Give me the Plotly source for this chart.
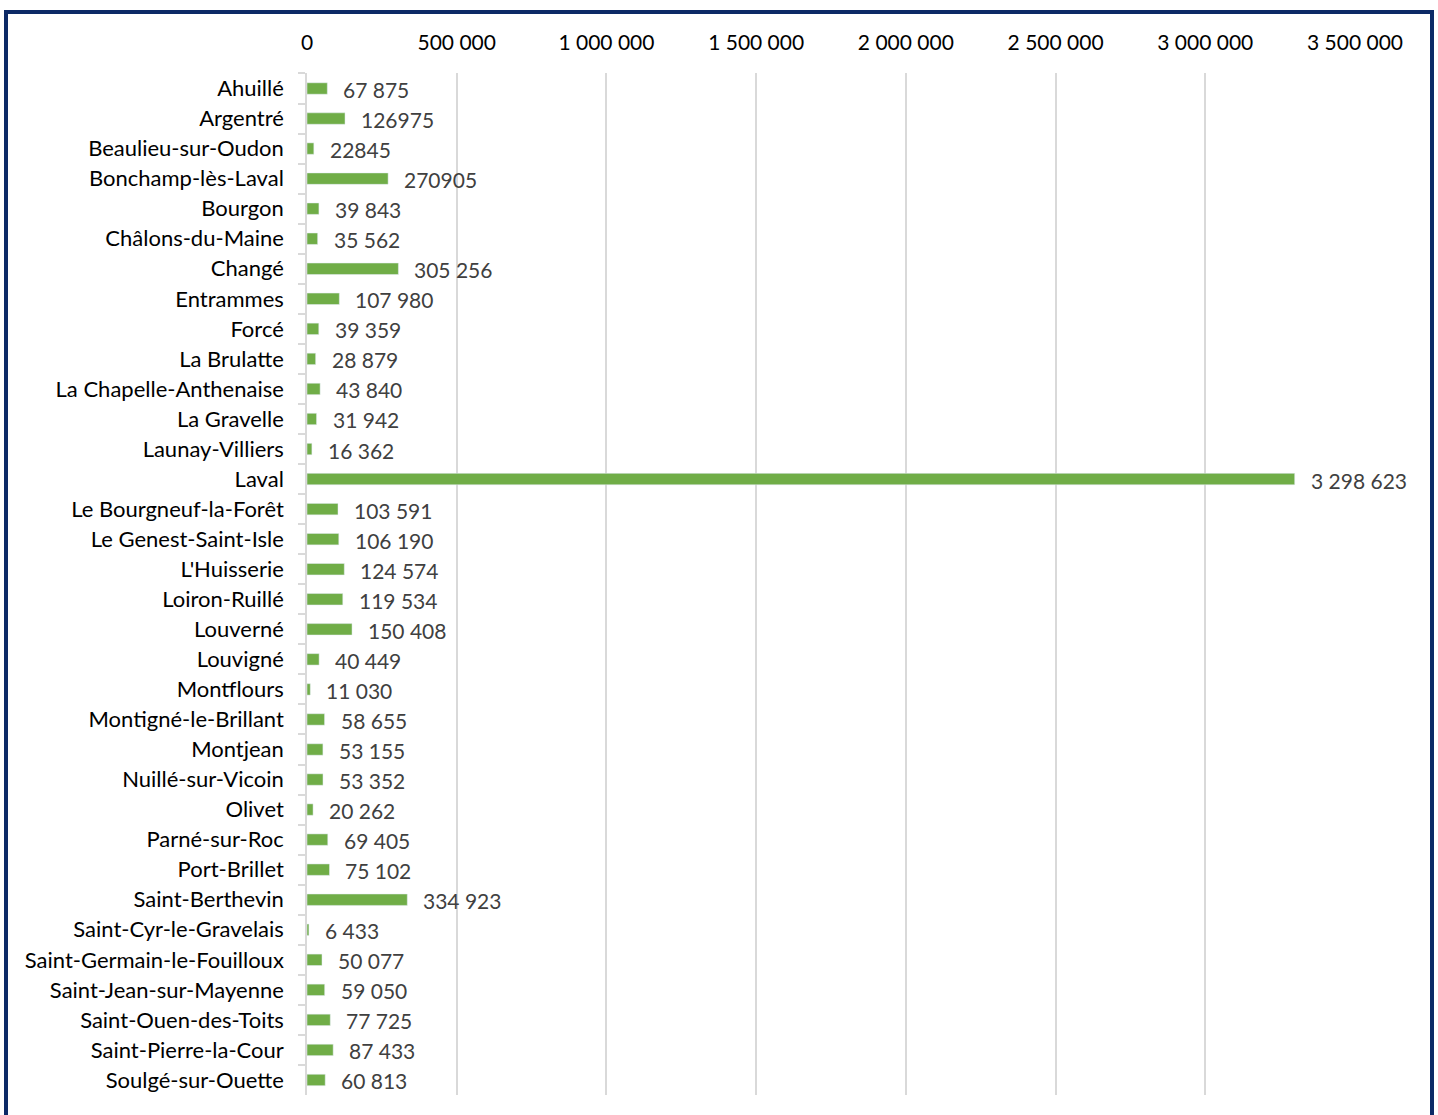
import plotly.graph_objects as go

# ---- data
communes = [
    "Ahuillé", "Argentré", "Beaulieu-sur-Oudon", "Bonchamp-lès-Laval", "Bourgon",
    "Châlons-du-Maine", "Changé", "Entrammes", "Forcé", "La Brulatte",
    "La Chapelle-Anthenaise", "La Gravelle", "Launay-Villiers", "Laval",
    "Le Bourgneuf-la-Forêt", "Le Genest-Saint-Isle", "L'Huisserie", "Loiron-Ruillé",
    "Louverné", "Louvigné", "Montflours", "Montigné-le-Brillant", "Montjean",
    "Nuillé-sur-Vicoin", "Olivet", "Parné-sur-Roc", "Port-Brillet", "Saint-Berthevin",
    "Saint-Cyr-le-Gravelais", "Saint-Germain-le-Fouilloux", "Saint-Jean-sur-Mayenne",
    "Saint-Ouen-des-Toits", "Saint-Pierre-la-Cour", "Soulgé-sur-Ouette",
]
values = [
    67875, 126975, 22845, 270905, 39843,
    35562, 305256, 107980, 39359, 28879,
    43840, 31942, 16362, 3298623,
    103591, 106190, 124574, 119534,
    150408, 40449, 11030, 58655, 53155,
    53352, 20262, 69405, 75102, 334923,
    6433, 50077, 59050,
    77725, 87433, 60813,
]
# labels as printed (a few have no thousands space)
labels = [
    "67 875", "126975", "22845", "270905", "39 843",
    "35 562", "305 256", "107 980", "39 359", "28 879",
    "43 840", "31 942", "16 362", "3 298 623",
    "103 591", "106 190", "124 574", "119 534",
    "150 408", "40 449", "11 030", "58 655", "53 155",
    "53 352", "20 262", "69 405", "75 102", "334 923",
    "6 433", "50 077", "59 050",
    "77 725", "87 433", "60 813",
]
tick_vals = [0, 500000, 1000000, 1500000, 2000000, 2500000, 3000000, 3500000]
tick_text = ["0", "500 000", "1 000 000", "1 500 000", "2 000 000", "2 500 000", "3 000 000", "3 500 000"]

FONT = "Lato"
W, H = 1438, 1115
L, R, T, B = 307, 83, 73, 20

fig = go.Figure(go.Bar(
    x=values, y=communes, orientation="h",
    marker_color="#70ad47", width=0.38,
    hoverinfo="x+y",
))

for v, c, lab in zip(values, communes, labels):
    fig.add_annotation(x=v, y=c, text=lab, showarrow=False, xanchor="left",
                       xshift=14, yshift=-1, font=dict(family=FONT, size=21, color="#404040"))

# dark frame around the whole chart (bottom edge runs off the page)
pw, ph = W - L - R, H - T - B
fig.add_shape(type="rect", xref="paper", yref="paper",
              x0=(6 - L) / pw, x1=(1432 - L) / pw,
              y0=(H - B - 1130) / ph, y1=(H - B - 12) / ph,
              line=dict(color="#0d2a66", width=4))

fig.update_layout(
    width=W, height=H,
    margin=dict(l=L, r=R, t=T, b=B),
    paper_bgcolor="white", plot_bgcolor="white",
    font=dict(family=FONT, size=22, color="black"),
    showlegend=False,
)
fig.update_xaxes(
    side="top", range=[0, 3500000], tickvals=tick_vals, ticktext=tick_text,
    showgrid=True, gridcolor="#d9d9d9", gridwidth=1.5, zeroline=False,
    showline=False, ticks="", ticklabelstandoff=18,
    tickfont=dict(family=FONT, size=21, color="black"),
)
fig.update_yaxes(
    autorange="reversed", showline=True, linecolor="#d9d9d9", linewidth=1.5,
    ticks="outside", ticklen=7, tickcolor="#d9d9d9", tickwidth=1.5, tickson="boundaries",
    ticklabelstandoff=17, showgrid=False,
    tickfont=dict(family=FONT, size=22, color="black"),
)

# page body margin off so the figure sits at the window's top-left corner
fig.write_html("out.html", config={"displayModeBar": False},
               post_script="document.body.style.margin='0';")
